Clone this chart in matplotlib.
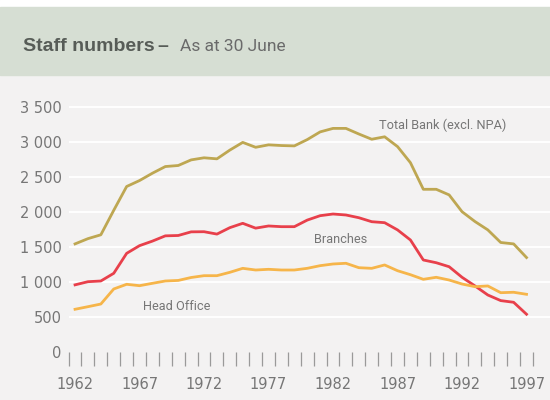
import numpy as np
import matplotlib
matplotlib.use("Agg")
import matplotlib.pyplot as plt
from matplotlib.patches import Rectangle
from matplotlib.ticker import FuncFormatter

plt.rcParams['font.family'] = ['Roboto', 'DejaVu Sans']

# staff numbers, as at 30 June
years = list(range(1962, 1998))
total_bank = [1540, 1615, 1670, 2020, 2360, 2445, 2550, 2645, 2660, 2740,
              2770, 2755, 2880, 2990, 2920, 2955, 2945, 2940, 3030, 3140,
              3190, 3190, 3110, 3035, 3070, 2930, 2700, 2320, 2320, 2240,
              2000, 1860, 1740, 1560, 1540, 1345]
branches = [955, 1000, 1010, 1120, 1405, 1515, 1580, 1655, 1660, 1712,
            1714, 1680, 1772, 1834, 1765, 1796, 1786, 1786, 1880, 1943,
            1967, 1953, 1914, 1857, 1843, 1740, 1596, 1310, 1271, 1214,
            1063, 940, 810, 730, 706, 535]
head_office = [606, 643, 681, 896, 963, 943, 977, 1010, 1018, 1060,
               1086, 1086, 1134, 1191, 1167, 1177, 1167, 1167, 1191, 1229,
               1253, 1263, 1200, 1191, 1239, 1157, 1100, 1034, 1063, 1024,
               967, 929, 939, 843, 849, 820]

y_ticks = [0, 500, 1000, 1500, 2000, 2500, 3000, 3500]
x_labels = [1962, 1967, 1972, 1977, 1982, 1987, 1992, 1997]

olive = '#bea752'
red = '#e8404b'
orange = '#f6b54a'
text_grey = '#767676'

fig = plt.figure(figsize=(5.5, 4), dpi=100)
fig.patch.set_facecolor('#f3f2f2')
# white strip on top and grey-green title band
fig.patches.append(Rectangle((0, 393 / 400), 1, 7 / 400, transform=fig.transFigure,
                             color='white', zorder=0))
fig.patches.append(Rectangle((0, 325 / 400), 1, 68 / 400, transform=fig.transFigure,
                             color='#d6ded3', zorder=0))

fig.text(23 / 550, 1 - 51 / 400, 'Staff numbers', fontsize=14, fontweight='bold',
         color='#575c57', va='baseline', family='Liberation Sans')
fig.text(157 / 550, 1 - 51 / 400, '\u2013', fontsize=14, fontweight='bold',
         color='#575c57', va='baseline', family='Liberation Sans')
fig.text(180 / 550, 1 - 51 / 400, 'As at 30 June', fontsize=12.5,
         color='#6a6a6a', va='baseline')

ax = fig.add_axes([68.6 / 550, 48.3 / 400, (550 - 68.6) / 550, (305 - 48.3) / 400])
ax.set_facecolor('none')
ax.set_xlim(1961.5, 1998.82)
ax.set_ylim(0, 3667)

for v in y_ticks[1:]:
    ax.axhline(v, color='white', lw=1.4, zorder=1)

ax.plot(years, total_bank, color=olive, lw=2.0, zorder=3)
ax.plot(years, branches, color=red, lw=2.0, zorder=3)
ax.plot(years, head_office, color=orange, lw=2.0, zorder=3)

ax.text(1985.6, 3230, 'Total Bank (excl. NPA)', fontsize=9.2, color=text_grey, va='center')
ax.text(1980.5, 1600, 'Branches', fontsize=9.2, color=text_grey, va='center')
ax.text(1967.3, 640, 'Head Office', fontsize=9.2, color=text_grey, va='center')

for s in ax.spines.values():
    s.set_visible(False)

ax.set_yticks(y_ticks)
ax.yaxis.set_major_formatter(FuncFormatter(lambda v, p: f'{int(v):,}'.replace(',', ' ')))
ax.tick_params(axis='y', length=0, pad=5, labelsize=10.5, labelcolor=text_grey)

ax.set_xticks(x_labels)
ax.set_xticks(np.arange(1961.5, 1998, 1.0), minor=True)
ax.tick_params(axis='x', which='major', length=0, pad=18, labelsize=10.5,
               labelcolor=text_grey)
ax.tick_params(axis='x', which='minor', length=10, width=0.9, color='#9a9a9a',
               direction='out')
for lab in ax.get_xticklabels() + ax.get_yticklabels():
    lab.set_family('DejaVu Sans')

fig.savefig('out.png', dpi=100, facecolor=fig.get_facecolor())
